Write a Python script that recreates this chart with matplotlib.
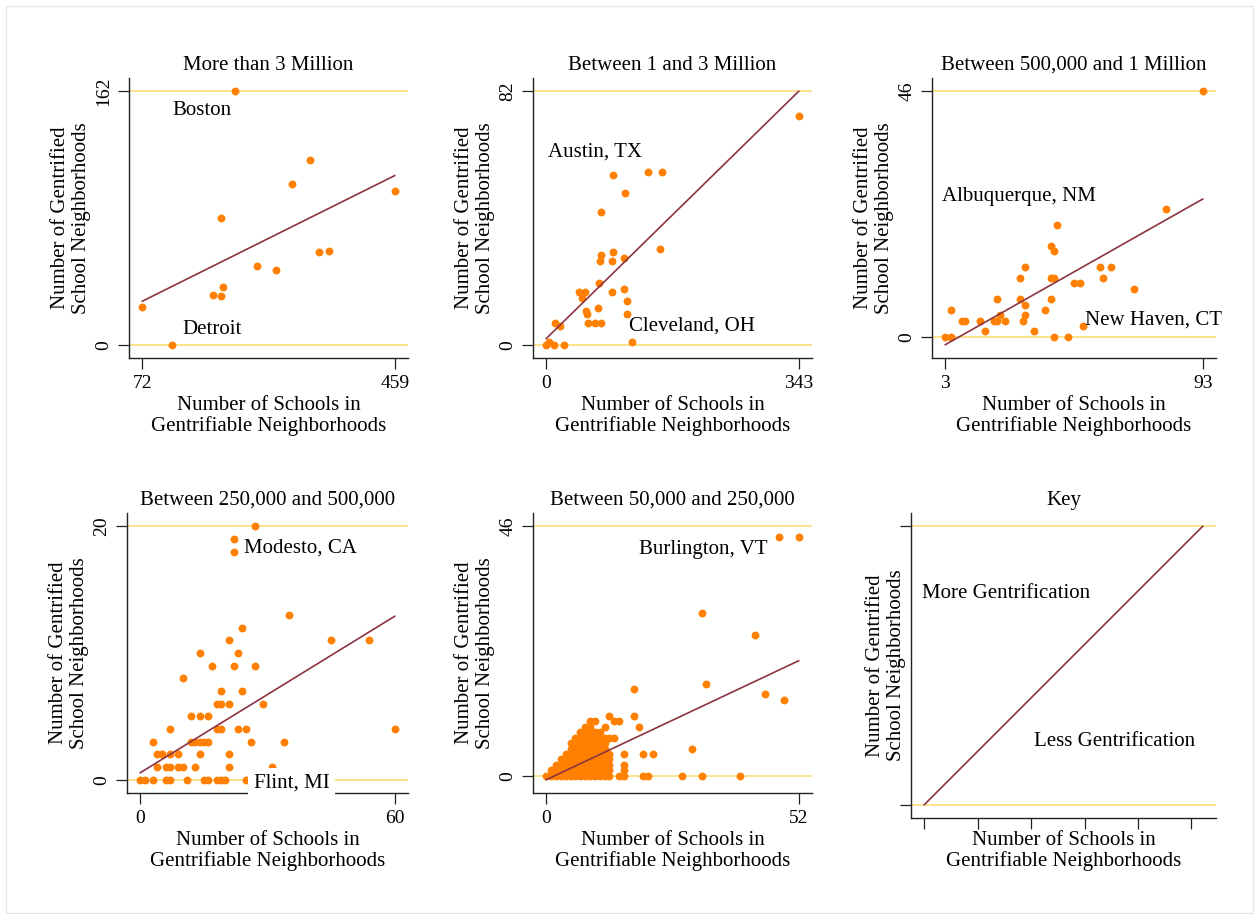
import matplotlib
matplotlib.use("Agg")
import matplotlib.pyplot as plt
from matplotlib.patches import Rectangle

plt.rcParams["font.family"] = ["Liberation Serif", "DejaVu Serif"]

ORANGE = "#FF8000"
GOLD = "#FBE28C"
FIT = "#8C3440"

XLABEL = "Number of Schools in\nGentrifiable Neighborhoods"
YLABEL = "Number of Gentrified\nSchool Neighborhoods"

# --- data -----------------------------------------------------------------
titles = [
    "More than 3 Million",
    "Between 1 and 3 Million",
    "Between 500,000 and 1 Million",
    "Between 250,000 and 500,000",
    "Between 50,000 and 250,000",
    "Key",
]

p1_x = [72, 117, 214, 192, 180, 192, 196, 248, 277, 302, 329, 343, 359, 459]
p1_y = [24, 0, 162, 81, 32, 31, 37, 50, 48, 103, 118, 59, 60, 98]

p2_x = [0, 3, 10, 24, 12, 18, 44, 52, 48, 54, 55, 57, 66, 75, 70, 72, 89,
        105, 110, 109, 116, 73, 75, 89, 90, 105, 75, 90, 107, 138, 157, 154, 343]
p2_y = [0, 1, 0, 0, 7, 6, 17, 17, 15, 11, 10, 7, 7, 7, 12, 20, 17,
        18, 14, 10, 1, 27, 29, 27, 30, 28, 43, 55, 49, 56, 56, 31, 74]

p3_x = [3, 5, 5, 9, 10, 15, 17, 20, 21, 21, 22, 24, 29, 29, 31, 31, 31, 30, 34,
        38, 40, 40, 41, 40, 41, 42, 41, 46, 48, 50, 51, 57, 58, 61, 69, 80, 93]
p3_y = [0, 0, 5, 3, 3, 3, 1, 3, 3, 7, 4, 3, 11, 7, 13, 6, 4, 3, 1,
        5, 7, 11, 11, 17, 16, 21, 0, 0, 10, 10, 2, 13, 11, 13, 9, 24, 46]

p4_x = [0, 1, 3, 6, 7, 11, 15, 16, 18, 19, 20, 25,
        4, 6, 7, 9, 10, 13, 21, 31,
        4, 5, 7, 9, 14, 21,
        3, 12, 13, 14, 15, 16, 26, 34,
        7, 18, 19, 23, 25, 60,
        12, 14, 16,
        18, 19, 21, 29,
        19, 24,
        10,
        17, 22, 27,
        14, 23,
        21, 45, 54,
        24, 35, 22, 22, 27]
p4_y = [0, 0, 0, 0, 0, 0, 0, 0, 0, 0, 0, 0,
        1, 1, 1, 1, 1, 1, 1, 1,
        2, 2, 2, 2, 2, 2,
        3, 3, 3, 3, 3, 3, 3, 3,
        4, 4, 4, 4, 4, 4,
        5, 5, 5,
        6, 6, 6, 6,
        7, 7,
        8,
        9, 9, 9,
        10, 10,
        11, 11, 11,
        12, 13, 18, 19, 20]

p5_x = [0, 1, 2, 3, 4, 5, 6, 7, 8, 9, 10, 11, 12, 13, 15, 16, 20, 21, 28, 32, 40,
        1, 2, 3, 4, 5, 6, 7, 8, 9, 10, 11, 12, 13, 16,
        2, 3, 4, 5, 6, 7, 8, 9, 10, 11, 12, 13, 16,
        3, 4, 5, 6, 7, 8, 9, 10, 11, 12, 13,
        4, 5, 6, 7, 8, 9, 10, 11, 12, 13, 16, 20, 22,
        5, 6, 7, 8, 9, 10, 11, 12, 30,
        5, 6, 7, 8, 9, 10, 11, 12,
        6, 7, 8, 9, 10, 11, 12, 13, 14,
        7, 8, 9, 10, 11,
        8, 9, 12, 19,
        9, 10, 14, 15,
        13, 18,
        49, 45, 18, 33, 43, 32, 48, 52]
p5_y = [0, 0, 0, 0, 0, 0, 0, 0, 0, 0, 0, 0, 0, 0, 0, 0, 0, 0, 0, 0, 0,
        1, 1, 1, 1, 1, 1, 1, 1, 1, 1, 1, 1, 1, 1,
        2, 2, 2, 2, 2, 2, 2, 2, 2, 2, 2, 2, 2,
        3, 3, 3, 3, 3, 3, 3, 3, 3, 3, 3,
        4, 4, 4, 4, 4, 4, 4, 4, 4, 4, 4, 4, 4,
        5, 5, 5, 5, 5, 5, 5, 5, 5,
        6, 6, 6, 6, 6, 6, 6, 6,
        7, 7, 7, 7, 7, 7, 7, 7, 7,
        8, 8, 8, 8, 8,
        9, 9, 9, 9,
        10, 10, 10, 10,
        11, 11,
        14, 15, 16, 17, 26, 30, 44, 44]

# fitted line end points (x range, y at both ends)
fit_x = [[72, 459], [0, 343], [3, 93], [0, 60], [0, 52], [0, 5.21]]
fit_y = [[27.8, 108.1], [2.0, 82.0], [-1.5, 25.8], [0.55, 12.9], [-0.74, 21.2], [0, 1]]

# reference lines (bottom / top) and tick labels
ref_lines = [[0, 162], [0, 82], [0, 46], [0, 20], [0, 46], [0, 1]]
xticks = [[72, 459], [0, 343], [3, 93], [0, 60], [0, 52], [0, 1, 2, 3, 4, 5]]
yticks = [[0, 162], [0, 82], [0, 46], [0, 20], [0, 46], [0, 1]]

points = [(p1_x, p1_y), (p2_x, p2_y), (p3_x, p3_y), (p4_x, p4_y), (p5_x, p5_y), ([], [])]

# (text, x, y, white box)
labels = [
    [("Boston", 118, 150, False), ("Detroit", 133, 9.6, False)],
    [("Austin, TX", 1.8, 62.2, False), ("Cleveland, OH", 113, 6.0, False)],
    [("Albuquerque, NM", 1.8, 26.3, False), ("New Haven, CT", 52, 3.2, False)],
    [("Modesto, CA", 24.5, 18.3, False), ("Flint, MI", 26.7, -0.3, True)],
    [("Burlington, VT", 19.2, 41.8, False)],
    [("More Gentrification", -0.05, 0.759, False), ("Less Gentrification", 2.06, 0.228, False)],
]

# --- layout (pixel boxes: left, top, right, bottom) -----------------------
W, H = 1254, 914
boxes = [
    (129, 78, 408, 358),
    (533, 78, 812, 358),
    (932, 78, 1216, 358),
    (127, 513, 408, 793),
    (533, 513, 812, 793),
    (911, 513, 1216, 818),
]
PAD_PX = 13.3


def padded(lo, hi, span_px):
    pad = (hi - lo) * PAD_PX / (span_px - 2 * PAD_PX)
    return lo - pad, hi + pad


fig = plt.figure(figsize=(W / 100, H / 100), dpi=100)
fig.patches.append(Rectangle((6 / W, 1 / H), 1 - 7 / W, 1 - 7 / H, transform=fig.transFigure,
                             fill=False, ec="#E6E6E6", lw=1))

for i, (l, t, r, b) in enumerate(boxes):
    wpx, hpx = r - l, b - t
    ax = fig.add_axes([l / W, 1 - b / H, wpx / W, hpx / H])
    px, py = points[i]

    xs = list(px) + fit_x[i]
    ys = list(py) + fit_y[i] + ref_lines[i]
    ax.set_xlim(*padded(min(xs), max(xs), wpx))
    ax.set_ylim(*padded(min(ys), max(ys), hpx))

    for yv in ref_lines[i]:
        ax.axhline(yv, color=GOLD, lw=1.4, zorder=1)
    if px:
        ax.scatter(px, py, s=32, color=ORANGE, linewidths=0, zorder=3)
    ax.plot(fit_x[i], fit_y[i], color=FIT, lw=1.2, zorder=4)

    for text, tx, ty, boxed in labels[i]:
        kw = dict(bbox=dict(fc="white", ec="none", pad=4)) if boxed else {}
        ax.text(tx, ty, text, fontsize=15, ha="left", va="center", zorder=6, **kw)

    for side in ("top", "right"):
        ax.spines[side].set_visible(False)
    for side in ("left", "bottom"):
        ax.spines[side].set_linewidth(1.0)
        ax.spines[side].set_color("#222222")

    ax.set_xticks(xticks[i])
    ax.set_yticks(yticks[i])
    if i == 5:
        ax.set_xticklabels([])
        ax.set_yticklabels([])
    else:
        ax.set_yticklabels([str(v) for v in yticks[i]], rotation=90, va="center")
    ax.tick_params(direction="out", length=8, width=0.9, color="#222222",
                   labelsize=14, pad=4)

    ax.set_title(titles[i], fontsize=15, y=1 + 13 / hpx, va="center", pad=0)

    off_y = 58 if i < 5 else 25
    off_x = 58 if i < 5 else 33
    ax.set_ylabel(YLABEL, fontsize=15, linespacing=1.12)
    ax.yaxis.label.set_verticalalignment("center")
    ax.yaxis.set_label_coords(-off_y / wpx, 0.5)
    ax.set_xlabel(XLABEL, fontsize=15, linespacing=1.12)
    ax.xaxis.label.set_verticalalignment("center")
    ax.xaxis.set_label_coords(0.5, -off_x / hpx)

fig.savefig("out.png", dpi=100)
